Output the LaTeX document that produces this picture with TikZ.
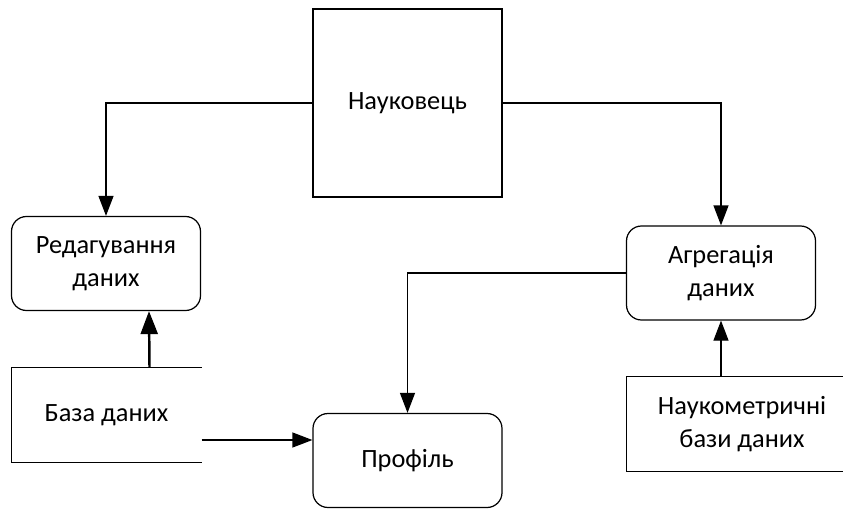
\documentclass[tikz,border=0pt]{standalone}
\usepackage{fontspec}
\setmainfont{Carlito}
\usepackage{tikz}
\usetikzlibrary{arrows.meta, positioning}

\begin{document}
\begin{tikzpicture}[font=\fontsize{15}{18.5}\selectfont, line width=0.7pt,
    ent/.style={draw, minimum width=3.78cm, minimum height=3.76cm},
    proc/.style={draw, rounded corners=0.3cm, align=center, minimum width=3.78cm, minimum height=1.88cm},
    store/.style={align=center, minimum height=1.88cm},
    arr/.style={-{Triangle[length=4mm, width=3mm]}}]
    \useasboundingbox (0,0) rectangle (16.86,-10.16);
    \node[ent] (sci) at (8.15,-2.06) {Науковець};
    \node[proc] (edit) at (2.12,-5.27) {Редагування\\даних};
    \node[proc] (agg) at (14.42,-5.46) {Агрегація\\даних};
    \node[proc] (prof) at (8.15,-9.21) {Профіль};
    \node[store, minimum width=3.78cm] (db) at (2.13,-8.30) {База даних};
    \node[store, minimum width=4.6cm] (nm) at (14.84,-8.48) {Наукометричні\\бази даних};
    % open stores
    \draw (db.north east) -- (db.north west) -- (db.south west) -- (db.south east);
    \draw (nm.north east) -- (nm.north west) -- (nm.south west) -- (nm.south east);
    % flows
    \draw[arr] (sci.west) -| (edit.north);
    \draw[arr] (sci.east) -| (agg.north);
    \draw[arr] (agg.west) -| (prof.north);
    \draw[-{Triangle[length=4.6mm, width=3.4mm]}, line width=1.4pt] ([xshift=0.86cm]db.north) -- ([xshift=0.86cm]edit.south);
    \draw[arr] ([yshift=-0.5cm]db.east) -- ([yshift=-0.5cm]db.east -| prof.west);
    \draw[arr] (nm.north -| agg.south) -- (agg.south);
\end{tikzpicture}
\end{document}
